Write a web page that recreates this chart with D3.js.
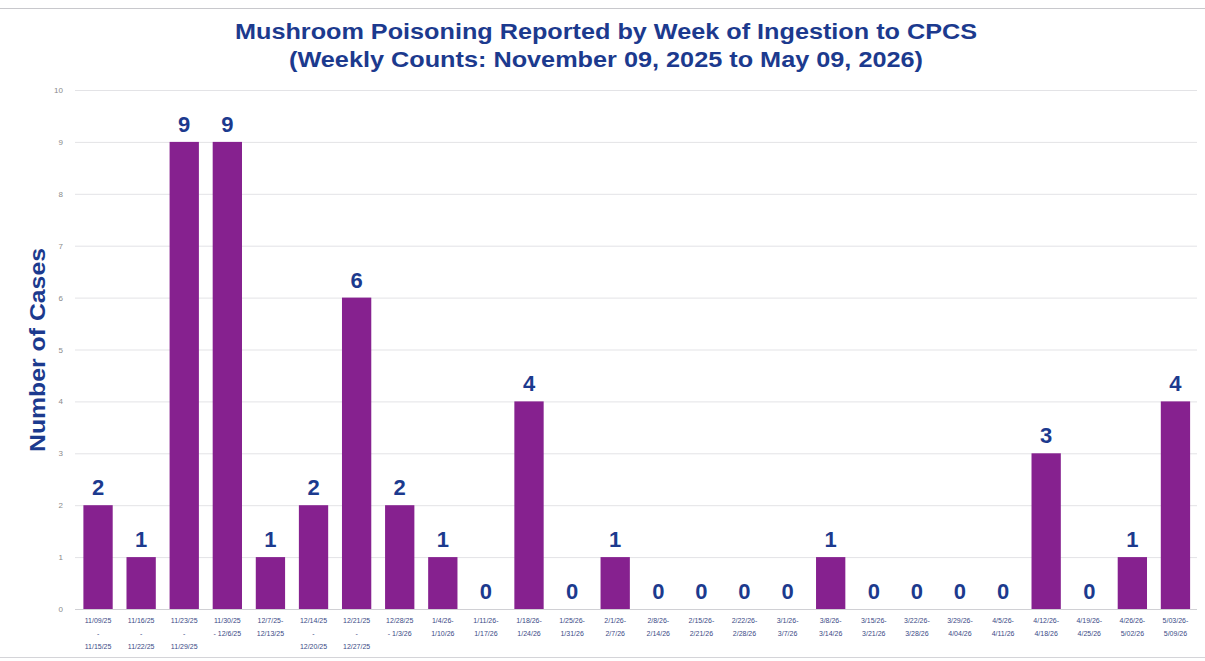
<!DOCTYPE html>
<html><head><meta charset="utf-8">
<script src="https://cdn.jsdelivr.net/npm/d3@7"></script>
<style>body{margin:0;background:#fff;}svg{display:block;font-family:"Liberation Sans",Arial,sans-serif;}</style>
</head><body>
<svg id="c" width="1205" height="661"></svg>
<script>
const categories = [
  ["11/09/25","-","11/15/25"],["11/16/25","-","11/22/25"],["11/23/25","-","11/29/25"],
  ["11/30/25","- 12/6/25"],["12/7/25-","12/13/25"],["12/14/25","-","12/20/25"],
  ["12/21/25","-","12/27/25"],["12/28/25","- 1/3/26"],["1/4/26-","1/10/26"],
  ["1/11/26-","1/17/26"],["1/18/26-","1/24/26"],["1/25/26-","1/31/26"],
  ["2/1/26-","2/7/26"],["2/8/26-","2/14/26"],["2/15/26-","2/21/26"],
  ["2/22/26-","2/28/26"],["3/1/26-","3/7/26"],["3/8/26-","3/14/26"],
  ["3/15/26-","3/21/26"],["3/22/26-","3/28/26"],["3/29/26-","4/04/26"],
  ["4/5/26-","4/11/26"],["4/12/26-","4/18/26"],["4/19/26-","4/25/26"],
  ["4/26/26-","5/02/26"],["5/03/26-","5/09/26"]
];
const values = [2,1,9,9,1,2,6,2,1,0,4,0,1,0,0,0,0,1,0,0,0,0,3,0,1,4];
const yTicks = [0,1,2,3,4,5,6,7,8,9,10];
const titleLines = ["Mushroom Poisoning Reported by Week of Ingestion to CPCS","(Weekly Counts: November 09, 2025 to May 09, 2026)"];
const titleWidths = [742, 634];
const yTitle = "Number of Cases";

const svg = d3.select("#c");
const navy = "#1c3a8e";
const barColor = "#86218f";
const idx = d3.range(values.length);

const x = d3.scaleBand().domain(idx).range([76.5,1197]).paddingInner(0.32).paddingOuter(0.16);
const y = d3.scaleLinear().domain([0,10]).range([609,90]);

// frame lines
svg.append("line").attr("x1",0).attr("x2",1205).attr("y1",8.5).attr("y2",8.5).attr("stroke","#c8c8cc").attr("stroke-width",1);
svg.append("line").attr("x1",0).attr("x2",1205).attr("y1",657.5).attr("y2",657.5).attr("stroke","#d4d4d8").attr("stroke-width",1);

// title
svg.append("g").selectAll("text").data(titleLines).join("text")
  .attr("x",606).attr("y",(d,i)=>39+i*28).attr("text-anchor","middle")
  .attr("textLength",(d,i)=>titleWidths[i]).attr("lengthAdjust","spacingAndGlyphs")
  .attr("fill",navy).attr("font-weight","bold").attr("font-size",22).text(d=>d);

// grid
const yAxis = d3.axisLeft(y).tickValues(yTicks).tickSize(-(1197-75)).tickPadding(12);
const gy = svg.append("g").attr("transform","translate(75,0)").call(yAxis);
gy.select(".domain").remove();
gy.selectAll(".tick line").attr("stroke","#e3e3e6").attr("stroke-width",1);
gy.selectAll(".tick text").attr("fill","#8a8a8a").attr("font-size",8);
gy.selectAll(".tick").filter(d=>d===0).select("line").attr("stroke","#d0d0d4");

// y title
svg.append("text").attr("transform","translate(45,350) rotate(-90)").attr("text-anchor","middle")
  .attr("textLength",204).attr("lengthAdjust","spacingAndGlyphs")
  .attr("fill",navy).attr("font-weight","bold").attr("font-size",22).text(yTitle);

// bars
svg.append("g").selectAll("rect").data(idx).join("rect")
  .attr("x",i=>x(i)).attr("width",x.bandwidth())
  .attr("y",i=>y(values[i])).attr("height",i=>y(0)-y(values[i]))
  .attr("fill",barColor);

// value labels
svg.append("g").selectAll("text").data(idx).join("text")
  .attr("x",i=>x(i)+x.bandwidth()/2).attr("y",i=>y(values[i])-10)
  .attr("text-anchor","middle").attr("fill",navy).attr("font-weight","bold").attr("font-size",22)
  .text(i=>values[i]);

// x labels
const gx = svg.append("g");
idx.forEach(i=>{
  const t = gx.append("text").attr("x",x(i)+x.bandwidth()/2).attr("y",623)
    .attr("text-anchor","middle").attr("fill","#3b4a86").attr("font-size",7);
  categories[i].forEach((s,j)=>{
    t.append("tspan").attr("x",x(i)+x.bandwidth()/2).attr("y",623+j*13).text(s);
  });
});
</script>
</body></html>
